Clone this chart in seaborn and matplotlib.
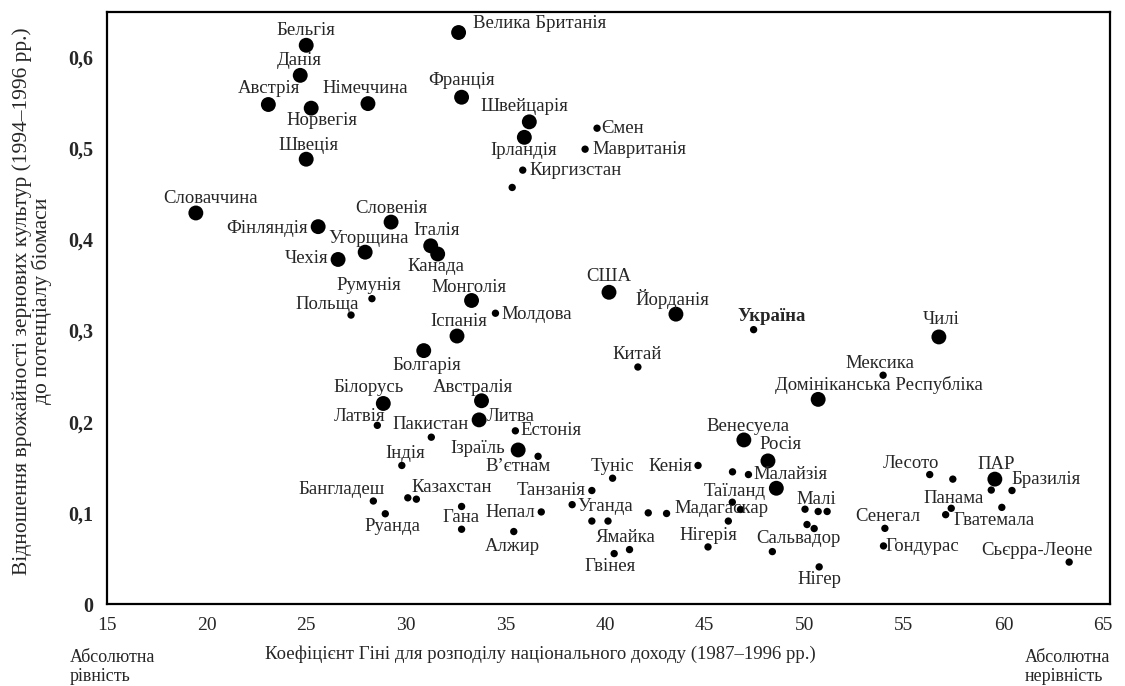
import matplotlib
matplotlib.use("Agg")
import matplotlib.pyplot as plt
import seaborn as sns
import pandas as pd
from matplotlib.ticker import MultipleLocator, FuncFormatter

# ---------------- data ----------------
countries = [
    "Бельгія", "Данія", "Австрія", "Норвегія", "Німеччина", "Швеція", "Словаччина",
    "Фінляндія", "Словенія", "Угорщина", "Чехія", "Італія", "Канада",
    "Велика Британія", "Франція", "Швейцарія", "Ірландія", "США", "Монголія",
    "Іспанія", "Болгарія", "Білорусь", "Австралія", "Литва", "Ізраїль",
    "Йорданія", "Чилі", "Домініканська Республіка", "Венесуела", "Росія",
    "Таїланд", "ПАР",
    "Киргизстан", "", "Ємен", "Мавританія", "Румунія", "Польща", "Молдова",
    "Латвія", "Пакистан", "Естонія", "В’єтнам", "Індія", "Бангладеш",
    "Казахстан", "", "Руанда", "Гана", "", "Непал", "Алжир", "Україна",
    "Китай", "Туніс", "Кенія", "", "Малайзія", "Танзанія", "Уганда", "", "",
    "", "Мадагаскар", "", "", "", "Нігерія", "Гвінея", "Ямайка", "Сальвадор",
    "Нігер", "Малі", "", "", "", "", "Мексика", "Лесото", "", "", "Бразилія",
    "", "Панама", "Гватемала", "Сенегал", "Гондурас", "Сьєрра-Леоне",
]
gini = [
    25.0, 24.7, 23.1, 25.25, 28.1, 25.0, 19.46,
    25.6, 29.26, 27.96, 26.6, 31.25, 31.6,
    32.65, 32.8, 36.2, 35.95, 40.2, 33.3,
    32.57, 30.9, 28.87, 33.8, 33.68, 35.64,
    43.56, 56.76, 50.7, 46.97, 48.18,
    48.6, 59.57,
    35.87, 35.34, 39.6, 39.0, 28.3, 27.25, 34.5,
    28.57, 31.28, 35.5, 36.64, 29.8, 28.37,
    30.1, 30.53, 28.97, 32.8, 32.8, 36.8, 35.42, 47.46,
    41.65, 40.38, 44.67, 46.4, 47.2, 39.34, 38.35, 39.34, 40.15,
    42.17, 43.09, 46.39, 46.8, 46.19, 45.17, 40.46, 41.23, 48.4,
    50.75, 50.7, 50.04, 51.15, 50.14, 50.5, 53.96, 56.3, 57.46, 59.39, 60.43,
    59.92, 57.38, 57.1, 54.05, 53.98, 63.3,
]
ratio = [
    0.613, 0.580, 0.548, 0.544, 0.549, 0.488, 0.429,
    0.414, 0.419, 0.386, 0.378, 0.393, 0.384,
    0.627, 0.556, 0.529, 0.512, 0.342, 0.333,
    0.294, 0.278, 0.220, 0.223, 0.202, 0.169,
    0.318, 0.293, 0.2245, 0.180, 0.157,
    0.127, 0.137,
    0.476, 0.457, 0.522, 0.499, 0.335, 0.317, 0.319,
    0.196, 0.183, 0.190, 0.162, 0.152, 0.113,
    0.1165, 0.115, 0.099, 0.107, 0.082, 0.101, 0.0795, 0.301,
    0.260, 0.138, 0.152, 0.145, 0.142, 0.1245, 0.109, 0.091, 0.091,
    0.100, 0.0993, 0.1117, 0.1037, 0.091, 0.0626, 0.0553, 0.0597, 0.0575,
    0.0407, 0.1015, 0.104, 0.1015, 0.0872, 0.0828, 0.251, 0.142, 0.137, 0.125, 0.1245,
    0.106, 0.105, 0.098, 0.083, 0.0637, 0.046,
]
group = ["large"] * 32 + ["small"] * (len(countries) - 32)

x_ticks = [15, 20, 25, 30, 35, 40, 45, 50, 55, 60, 65]
y_ticks = [0, 0.1, 0.2, 0.3, 0.4, 0.5, 0.6]

x_title = "Коефіцієнт Гіні для розподілу національного доходу (1987–1996 рр.)"
y_title = "Відношення врожайності зернових культур (1994–1996 рр.)\nдо потенціалу біомаси"
left_note = "Абсолютна\nрівність"
right_note = "Абсолютна\nнерівність"
highlight = "Україна"

# ---------------- label placement (pixel offsets: dx, dy downward) ----------------
label_offsets = {
    "Бельгія": (0, -15), "Данія": (-1, -15), "Австрія": (1, -16), "Німеччина": (-3, -15),
    "Норвегія": (11, 12), "Швеція": (2, -14), "Словаччина": (15, -14),
    "Фінляндія": (-51, 2), "Словенія": (0, -14), "Угорщина": (3, -14),
    "Чехія": (-32, -1), "Італія": (6, -15), "Канада": (-2, 13),
    "Велика Британія": (81, -9), "Франція": (0, -17), "Швейцарія": (-5, -15),
    "Ірландія": (-1, 13), "Киргизстан": (53, 0), "Ємен": (26, 0),
    "Мавританія": (54, 0), "США": (0, -16), "Румунія": (-3, -13),
    "Польща": (-24, -11), "Монголія": (-3, -13), "Молдова": (41, 1),
    "Іспанія": (2, -15), "Болгарія": (3, 15), "Білорусь": (-15, -16),
    "Австралія": (-9, -13), "Литва": (32, -3), "Латвія": (-18, -9),
    "Пакистан": (-1, -13), "Естонія": (36, 0), "Ізраїль": (-40, -1),
    "В’єтнам": (-20, 10), "Індія": (3, -12), "Бангладеш": (-32, -12),
    "Казахстан": (44, -10), "Руанда": (7, 13), "Гана": (-1, 11),
    "Непал": (-31, 1), "Алжир": (-1, 15), "Йорданія": (-4, -15),
    "Україна": (18, -13), "Китай": (-1, -13), "Домініканська Республіка": (61, -14),
    "Венесуела": (4, -13), "Росія": (13, -16), "Туніс": (0, -12),
    "Кенія": (-28, 1), "Малайзія": (42, 0), "Таїланд": (-42, 3),
    "Танзанія": (-41, 0), "Уганда": (33, 2), "Мадагаскар": (55, -5),
    "Нігерія": (0, -11), "Ямайка": (-4, -12), "Гвінея": (-4, 13),
    "Сальвадор": (26, -13), "Нігер": (0, 13), "Малі": (-2, -12),
    "Чилі": (2, -17), "Мексика": (-3, -12), "Лесото": (-19, -11),
    "ПАР": (1, -15), "Бразилія": (34, -11), "Панама": (2, -10),
    "Гватемала": (48, 6), "Сенегал": (3, -12), "Гондурас": (39, 1),
    "Сьєрра-Леоне": (-32, -12),
}

df = pd.DataFrame({"country": countries, "gini": gini, "ratio": ratio, "group": group})

# ---------------- plotting ----------------
sns.set_style("white")
plt.rcParams["font.family"] = ["Liberation Serif", "DejaVu Serif"]

fig = plt.figure(figsize=(11.25, 6.86), dpi=100)
ax = fig.add_axes([107 / 1125, 1 - 604 / 686, 1003 / 1125, 592 / 686])

sns.scatterplot(data=df, x="gini", y="ratio", size="group",
                sizes={"large": 115, "small": 28}, color="black",
                edgecolor="black", linewidth=0, legend=False, ax=ax)

ax.set_xlim(15, 65.35)
ax.set_ylim(0, 0.6495)
ax.set_xticks(x_ticks)
ax.set_yticks(y_ticks)
ax.xaxis.set_minor_locator(MultipleLocator(1))
ax.yaxis.set_minor_locator(MultipleLocator(0.02))
ax.yaxis.set_major_formatter(FuncFormatter(lambda v, p: "0" if v == 0 else f"{v:.1f}".replace(".", ",")))
ax.tick_params(axis="both", which="major", direction="in", length=6, width=1.2, color="#222222")
ax.tick_params(axis="both", which="minor", direction="in", length=3.5, width=1.0, color="#222222")
ax.tick_params(axis="x", which="major", labelsize=14, pad=9)
ax.tick_params(axis="y", which="major", labelsize=14.5, pad=10)
for lab in ax.get_yticklabels():
    lab.set_fontweight("bold")
for s in ax.spines.values():
    s.set_visible(True)
    s.set_color("black")
    s.set_linewidth(1.6)

ax.set_xlabel("")
ax.set_ylabel("")
fig.text(540 / 1125, 1 - 654 / 686, x_title, ha="center", va="center", fontsize=13.5)
fig.text(32 / 1125, 1 - 301 / 686, y_title, ha="center", va="center", rotation=90,
         fontsize=15.5, linespacing=0.95)
fig.text(70 / 1125, 1 - 667 / 686, left_note, ha="left", va="center", fontsize=13, linespacing=1.1)
fig.text(1025 / 1125, 1 - 667 / 686, right_note, ha="left", va="center", fontsize=13, linespacing=1.1)

for name, gx, ry in zip(countries, gini, ratio):
    if not name:
        continue
    dx, dy = label_offsets.get(name, (0, -12))
    ax.annotate(name, (gx, ry), xytext=(dx, -dy), textcoords="offset pixels",
                ha="center", va="center", fontsize=13.5,
                fontweight="bold" if name == highlight else "normal")

fig.savefig("out.png", dpi=100, facecolor="white")
